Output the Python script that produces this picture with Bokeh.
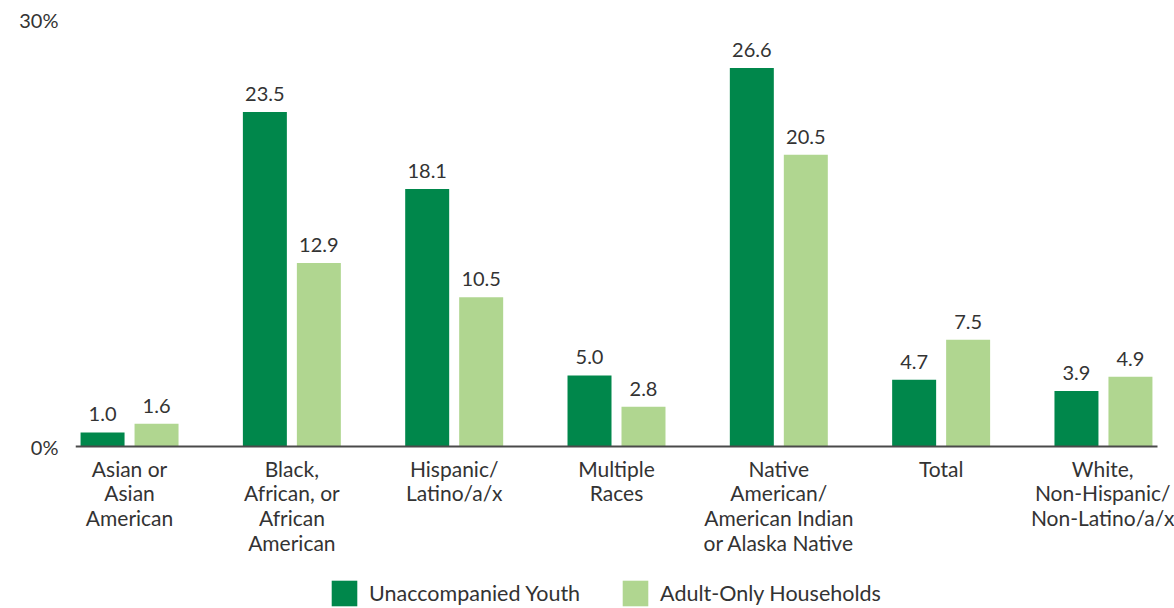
from bokeh.plotting import figure
from bokeh.models import (Range1d, FixedTicker, ColumnDataSource, Legend, LegendItem,
                          CustomJSTickFormatter)
from bokeh.core.properties import value
from bokeh.embed import file_html
from bokeh.resources import INLINE

categories = ["Asian or\nAsian\nAmerican",
              "Black,\nAfrican, or\nAfrican\nAmerican",
              "Hispanic/\nLatino/a/x",
              "Multiple\nRaces",
              "Native\nAmerican/\nAmerican Indian\nor Alaska Native",
              "Total",
              "White,\nNon-Hispanic/\nNon-Latino/a/x"]
youth = [1.0, 23.5, 18.1, 5.0, 26.6, 4.7, 3.9]
adult = [1.6, 12.9, 10.5, 2.8, 20.5, 7.5, 4.9]
series_names = ["Unaccompanied Youth", "Adult-Only Households"]
y_ticks = [0, 30]

DARK = "#00874B"
LIGHT = "#B0D690"
TEXT = "#333333"
FONT = "Lato"

idx = list(range(len(categories)))
off = 0.1663
bw = 0.271
x_lo, x_hi = -0.333, len(categories) - 1 + 0.333

src_y = ColumnDataSource(dict(x=[i - off for i in idx], top=youth,
                              lab=[f"{v:.1f}" for v in youth]))
src_a = ColumnDataSource(dict(x=[i + off for i in idx], top=adult,
                              lab=[f"{v:.1f}" for v in adult]))

# frame spans from the 30% line down to the bottom of the page and to the
# right edge; the value axis keeps 0..30 at the original pixel positions
p = figure(width=1174, height=608, output_backend="svg", toolbar_location=None,
           x_range=Range1d(x_lo, x_hi + 0.1047),
           y_range=Range1d(-11.37, 30),
           min_border_left=75, min_border_right=0, min_border_top=19,
           min_border_bottom=0)
p.outline_line_color = None
p.grid.visible = False
p.background_fill_color = "white"
p.border_fill_color = "white"

r1 = p.vbar(x="x", top="top", width=bw, source=src_y, color=DARK, line_color=None)
r2 = p.vbar(x="x", top="top", width=bw, source=src_a, color=LIGHT, line_color=None)

for s in (src_y, src_a):
    p.text(x="x", y="top", text="lab", source=s, y_offset=-11,
           text_align="center", text_baseline="bottom",
           text_font=value(FONT), text_font_size="20px", text_color=TEXT)

# x axis, pinned at zero
xa = p.xaxis[0]
xa.fixed_location = 0
xa.bounds = (x_lo, x_hi)
xa.ticker = FixedTicker(ticks=idx)
xa.major_label_overrides = {i: c for i, c in zip(idx, categories)}
xa.major_tick_line_color = None
xa.minor_tick_line_color = None
xa.axis_line_color = "#4a4a4a"
xa.axis_line_width = 2
xa.major_label_standoff = 3
xa.major_label_text_font = FONT
xa.major_label_text_font_size = "21px"
xa.major_label_text_color = TEXT
xa.major_label_text_line_height = 0.99

# y axis
ya = p.yaxis[0]
ya.ticker = FixedTicker(ticks=y_ticks)
ya.formatter = CustomJSTickFormatter(code="return tick + '%';")
ya.axis_line_color = None
ya.major_tick_line_color = None
ya.minor_tick_line_color = None
ya.major_label_standoff = 11
ya.major_label_text_font = FONT
ya.major_label_text_font_size = "20px"
ya.major_label_text_color = TEXT

legend = Legend(items=[LegendItem(label=series_names[0], renderers=[r1]),
                       LegendItem(label=series_names[1], renderers=[r2])],
                orientation="horizontal", location=(253, -1),
                glyph_width=32, glyph_height=32, label_height=32,
                label_standoff=9, spacing=39, padding=0, margin=0,
                border_line_color=None, background_fill_alpha=0,
                label_text_font=FONT, label_text_font_size="21.5px",
                label_text_color=TEXT)
p.add_layout(legend, "center")

open("out.html", "w").write(file_html(p, INLINE))
